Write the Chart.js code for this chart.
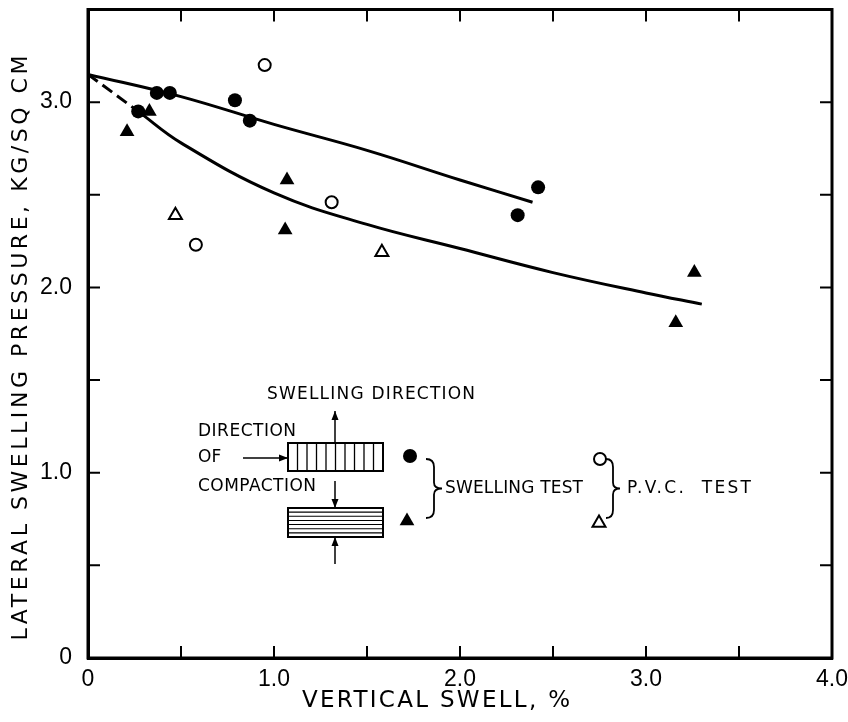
<!DOCTYPE html>
<html>
<head>
<meta charset="utf-8">
<script src="https://cdn.jsdelivr.net/npm/chart.js@4.4.0/dist/chart.umd.min.js"></script>
<style>
  html, body { margin: 0; padding: 0; background: #fff; }
  #wrap { width: 848px; height: 722px; }
</style>
</head>
<body>
<div id="wrap"><canvas id="c" width="848" height="722"></canvas></div>
<script>
// swelling test, vertical compaction (filled circles)
const swellCircleX = [0.27, 0.37, 0.44, 0.79, 0.87, 2.31, 2.42];
const swellCircleY = [2.95, 3.05, 3.05, 3.01, 2.90, 2.39, 2.54];
// swelling test, horizontal compaction (filled triangles)
const swellTriX = [0.21, 0.33, 1.06, 1.07, 3.16, 3.26];
const swellTriY = [2.84, 2.95, 2.31, 2.58, 1.81, 2.08];
// P.V.C. test (open symbols)
const pvcCircleX = [0.58, 0.95, 1.31];
const pvcCircleY = [2.23, 3.20, 2.46];
const pvcTriX = [0.47, 1.58];
const pvcTriY = [2.39, 2.19];
// fitted curves
const upperX = [0, 0.5, 1.0, 1.5, 2.0, 2.39];
const upperY = [3.15, 3.03, 2.88, 2.74, 2.58, 2.46];
const lowerX = [0.27, 0.5, 1.0, 1.5, 2.0, 2.5, 3.0, 3.3];
const lowerY = [2.95, 2.78, 2.51, 2.34, 2.21, 2.08, 1.97, 1.91];
const dashX = [0, 0.27];
const dashY = [3.15, 2.95];

const xMin = 0, xMax = 4.0, yMin = 0, yMax = 3.5, tickStep = 0.5;
const xTitle = 'VERTICAL SWELL, %';
const yTitle = 'LATERAL SWELLING PRESSURE, KG/SQ CM';

const pts = (xs, ys) => xs.map((x, i) => ({ x: x, y: ys[i] }));
const FONT = "'DejaVu Sans', 'Liberation Sans', sans-serif";
const TICKFONT = "'Liberation Sans', 'DejaVu Sans', sans-serif";

function tickLabel(v) {
  if (v === 0) return '0';
  return Math.abs(v % 1) < 1e-9 ? v.toFixed(1) : '';
}

// text stretched to a given width with letter spacing
function spacedText(ctx, text, cx, cy, width) {
  ctx.letterSpacing = '0px';
  const w = ctx.measureText(text).width;
  const sp = Math.max(0, (width - w) / (text.length - 1));
  ctx.letterSpacing = sp + 'px';
  ctx.textAlign = 'left';
  ctx.fillText(text, cx - width / 2, cy);
  ctx.letterSpacing = '0px';
}

// inward ticks on all four sides, the frame and the axis titles
const frame = {
  id: 'frame',
  afterDatasetsDraw(chart) {
    const { ctx, chartArea: a, scales } = chart;
    ctx.save();
    ctx.strokeStyle = '#000';
    ctx.lineWidth = 3;
    ctx.strokeRect(a.left, a.top, a.right - a.left, a.bottom - a.top);
    ctx.lineWidth = 2;
    const len = 12;
    for (let v = xMin + tickStep; v < xMax - 1e-9; v += tickStep) {
      const px = scales.x.getPixelForValue(v);
      ctx.beginPath();
      ctx.moveTo(px, a.bottom); ctx.lineTo(px, a.bottom - len);
      ctx.moveTo(px, a.top); ctx.lineTo(px, a.top + len);
      ctx.stroke();
    }
    for (let v = yMin + tickStep; v < yMax - 1e-9; v += tickStep) {
      const py = scales.y.getPixelForValue(v);
      ctx.beginPath();
      ctx.moveTo(a.left, py); ctx.lineTo(a.left + len, py);
      ctx.moveTo(a.right, py); ctx.lineTo(a.right - len, py);
      ctx.stroke();
    }

    ctx.fillStyle = '#000';
    ctx.textBaseline = 'middle';
    ctx.font = '23px ' + FONT;
    spacedText(ctx, xTitle, 436, 701, 268);
    ctx.save();
    ctx.translate(21, 348);
    ctx.rotate(-Math.PI / 2);
    ctx.font = '22px ' + FONT;
    spacedText(ctx, yTitle, 0, 0, 585);
    ctx.restore();
    ctx.restore();
  }
};

function arrow(ctx, x1, y1, x2, y2) {
  ctx.beginPath();
  ctx.moveTo(x1, y1); ctx.lineTo(x2, y2);
  ctx.stroke();
  const ang = Math.atan2(y2 - y1, x2 - x1);
  const h = 9, w = 3.5;
  ctx.beginPath();
  ctx.moveTo(x2, y2);
  ctx.lineTo(x2 - h * Math.cos(ang) + w * Math.sin(ang), y2 - h * Math.sin(ang) - w * Math.cos(ang));
  ctx.lineTo(x2 - h * Math.cos(ang) - w * Math.sin(ang), y2 - h * Math.sin(ang) + w * Math.cos(ang));
  ctx.closePath();
  ctx.fill();
}

function brace(ctx, x, y1, y2, w) {
  const m = (y1 + y2) / 2, q = w / 2;
  ctx.beginPath();
  ctx.moveTo(x, y1);
  ctx.quadraticCurveTo(x + q, y1, x + q, y1 + 8);
  ctx.lineTo(x + q, m - 6);
  ctx.quadraticCurveTo(x + q, m, x + w, m);
  ctx.quadraticCurveTo(x + q, m, x + q, m + 6);
  ctx.lineTo(x + q, y2 - 8);
  ctx.quadraticCurveTo(x + q, y2, x, y2);
  ctx.stroke();
}

function tri(ctx, x, y, r, fill) {
  ctx.beginPath();
  ctx.moveTo(x, y - r);
  ctx.lineTo(x + r * 0.866, y + r / 2);
  ctx.lineTo(x - r * 0.866, y + r / 2);
  ctx.closePath();
  if (fill) ctx.fill(); else ctx.stroke();
}

// the sample sketch and key inside the plot
const inset = {
  id: 'inset',
  afterDraw(chart) {
    const ctx = chart.ctx;
    ctx.save();
    ctx.fillStyle = '#000';
    ctx.strokeStyle = '#000';
    ctx.font = '17px ' + FONT;
    ctx.textBaseline = 'middle';
    spacedText(ctx, 'SWELLING DIRECTION', 371, 395, 208);
    spacedText(ctx, 'DIRECTION', 247, 432, 98);
    ctx.textAlign = 'left';
    ctx.fillText('OF', 198, 458);
    spacedText(ctx, 'COMPACTION', 257, 487, 118);
    spacedText(ctx, 'SWELLING TEST', 514, 489, 138);
    spacedText(ctx, 'P.V.C.  TEST', 689, 489, 124);

    ctx.lineWidth = 1.5;
    arrow(ctx, 335, 443, 335, 411);
    arrow(ctx, 243, 458, 288, 458);
    arrow(ctx, 335, 481, 335, 508);
    arrow(ctx, 335, 564, 335, 537);

    // vertically layered sample
    ctx.lineWidth = 2;
    ctx.strokeRect(288, 443, 95, 28);
    ctx.lineWidth = 1.3;
    for (let i = 1; i < 10; i++) {
      const x = 288 + i * 9.5;
      ctx.beginPath(); ctx.moveTo(x, 443); ctx.lineTo(x, 471); ctx.stroke();
    }
    // horizontally layered sample
    ctx.lineWidth = 2;
    ctx.strokeRect(288, 508, 95, 29);
    ctx.lineWidth = 1.1;
    for (let i = 1; i < 7; i++) {
      const y = 508 + i * 29 / 7;
      ctx.beginPath(); ctx.moveTo(288, y); ctx.lineTo(383, y); ctx.stroke();
    }

    // key symbols
    ctx.beginPath(); ctx.arc(410, 456, 7, 0, Math.PI * 2); ctx.fill();
    tri(ctx, 407, 521, 8.5, true);
    ctx.lineWidth = 2;
    ctx.beginPath(); ctx.arc(600, 459, 6, 0, Math.PI * 2); ctx.stroke();
    tri(ctx, 599, 523, 7.5, false);

    ctx.lineWidth = 1.8;
    brace(ctx, 426, 459, 518, 16);
    brace(ctx, 606, 459, 518, 14);
    ctx.restore();
  }
};

const ctx = document.getElementById('c');
new Chart(ctx, {
  type: 'scatter',
  data: {
    datasets: [
      {
        label: 'upper curve', type: 'line', data: pts(upperX, upperY),
        borderColor: '#000', borderWidth: 3, pointRadius: 0, tension: 0.4, fill: false
      },
      {
        label: 'lower curve', type: 'line', data: pts(lowerX, lowerY),
        borderColor: '#000', borderWidth: 3, pointRadius: 0, tension: 0.4, fill: false
      },
      {
        label: 'lower curve extension', type: 'line', data: pts(dashX, dashY),
        borderColor: '#000', borderWidth: 3, borderDash: [12, 6], pointRadius: 0, fill: false
      },
      {
        label: 'swelling test, circles', data: pts(swellCircleX, swellCircleY),
        pointStyle: 'circle', pointRadius: 7, backgroundColor: '#000', borderColor: '#000', borderWidth: 0
      },
      {
        label: 'swelling test, triangles', data: pts(swellTriX, swellTriY),
        pointStyle: 'triangle', pointRadius: 8.5, backgroundColor: '#000', borderColor: '#000', borderWidth: 0
      },
      {
        label: 'P.V.C. test, circles', data: pts(pvcCircleX, pvcCircleY),
        pointStyle: 'circle', pointRadius: 6, backgroundColor: '#fff', borderColor: '#000', borderWidth: 2
      },
      {
        label: 'P.V.C. test, triangles', data: pts(pvcTriX, pvcTriY),
        pointStyle: 'triangle', pointRadius: 7.5, backgroundColor: '#fff', borderColor: '#000', borderWidth: 2
      }
    ]
  },
  options: {
    responsive: false,
    animation: false,
    layout: { padding: { top: 9, right: 16, left: 0, bottom: 0 } },
    plugins: {
      legend: { display: false },
      tooltip: { enabled: false }
    },
    scales: {
      x: {
        type: 'linear', min: xMin, max: xMax,
        grid: { display: false },
        border: { display: true, color: '#000', width: 3 },
        ticks: {
          stepSize: tickStep, autoSkip: false, maxRotation: 0, padding: 0,
          color: '#000', font: { family: TICKFONT, size: 23 },
          callback: tickLabel
        },
        afterFit(scale) {
          scale.height = 64;
          scale.paddingLeft = 0;
          scale.paddingRight = 0;
        }
      },
      y: {
        type: 'linear', min: yMin, max: yMax,
        grid: { display: false },
        border: { display: true, color: '#000', width: 3 },
        ticks: {
          stepSize: tickStep, autoSkip: false, padding: 8,
          color: '#000', font: { family: TICKFONT, size: 23 },
          callback: tickLabel
        },
        afterFit(scale) {
          scale.width = 88;
          scale.paddingTop = 0;
          scale.paddingBottom = 0;
        }
      }
    }
  },
  plugins: [frame, inset]
});
</script>
</body>
</html>
